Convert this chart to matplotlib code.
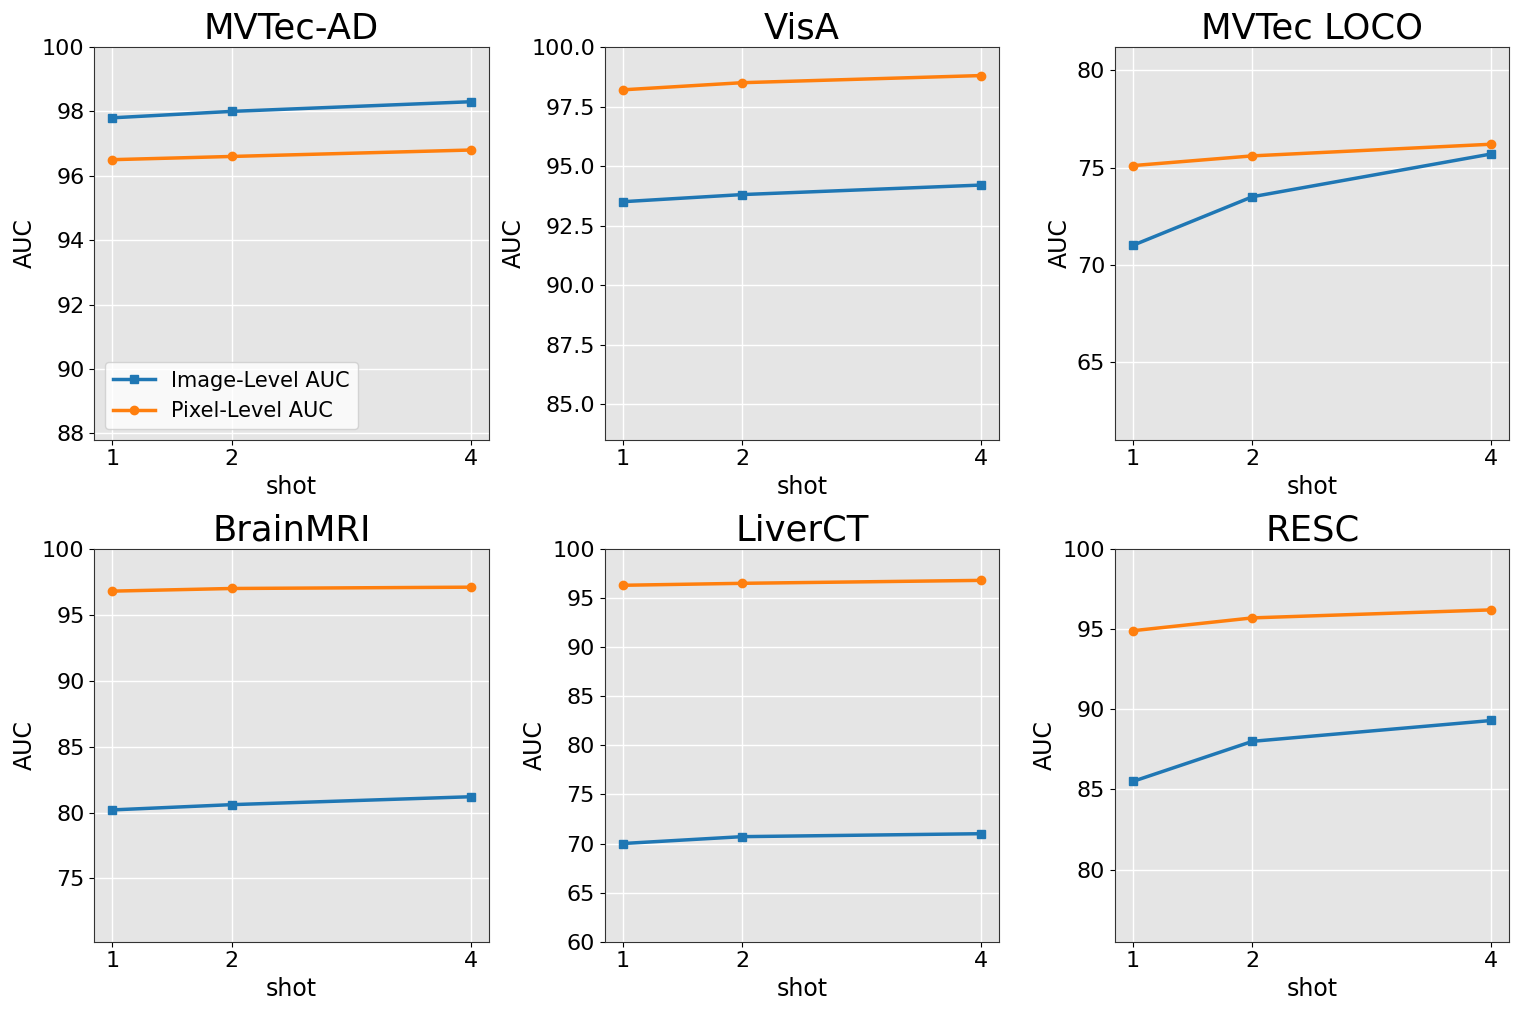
import numpy as np
import matplotlib
matplotlib.use('Agg')
import matplotlib.pyplot as plt

# Data
shots = [1, 2, 4]
datasets = ['MVTec-AD', 'VisA', 'MVTec LOCO', 'BrainMRI', 'LiverCT', 'RESC']

image_auc = [
    [97.8, 98.0, 98.3],   # MVTec-AD
    [93.5, 93.8, 94.2],   # VisA
    [71.0, 73.5, 75.7],   # MVTec LOCO
    [80.2, 80.6, 81.2],   # BrainMRI
    [70.0, 70.7, 71.0],   # LiverCT
    [85.5, 88.0, 89.3],   # RESC
]
pixel_auc = [
    [96.5, 96.6, 96.8],
    [98.2, 98.5, 98.8],
    [75.1, 75.6, 76.2],
    [96.8, 97.0, 97.1],
    [96.3, 96.5, 96.8],
    [94.9, 95.7, 96.2],
]

fig, axes = plt.subplots(2, 3, figsize=(15.22, 10.15), dpi=100)
plt.subplots_adjust(left=0.062, right=0.9917, top=0.9537, bottom=0.0722,
                    wspace=0.294, hspace=0.278)

for i, ax in enumerate(axes.flat):
    ax.set_facecolor('#e5e5e5')
    ax.grid(True, color='white', linewidth=1.0)
    ax.set_axisbelow(True)
    ax.plot(shots, image_auc[i], marker='s', markersize=6, linewidth=2.5,
            color='#1f77b4', label='Image-Level AUC')
    ax.plot(shots, pixel_auc[i], marker='o', markersize=6, linewidth=2.5,
            color='#ff7f0e', label='Pixel-Level AUC')
    # y range: 10 below the lowest image-level value, up to 100 at most
    lo = min(image_auc[i]) - 10
    hi = min(100, max(image_auc[i] + pixel_auc[i]) + 5)
    ax.set_ylim(lo, hi)
    ax.set_xticks(shots)
    ax.set_title(datasets[i], fontsize=25.5)
    ax.set_xlabel('shot', fontsize=17)
    ax.set_ylabel('AUC', fontsize=17)
    ax.tick_params(labelsize=16)
    for s in ax.spines.values():
        s.set_color('#333333')

axes[0, 0].legend(loc='lower left', fontsize=15)

plt.savefig('out.png')
